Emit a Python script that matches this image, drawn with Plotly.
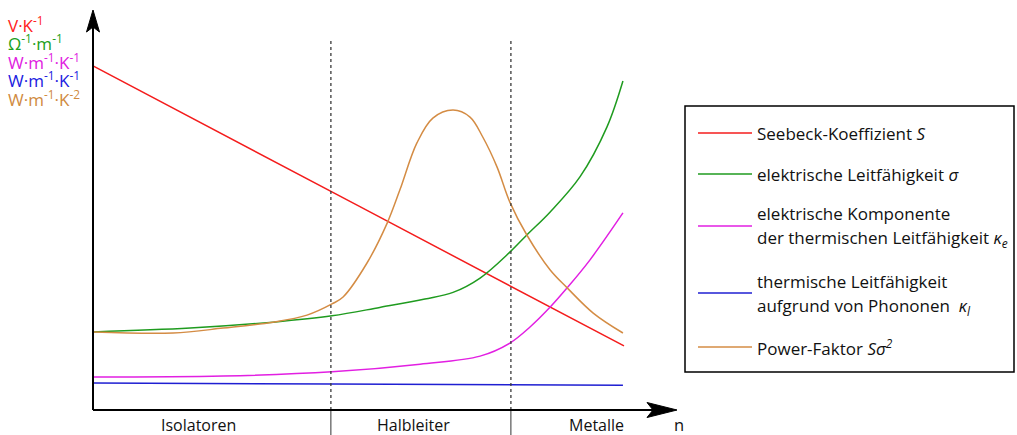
import plotly.graph_objects as go

# ---------------- data (arbitrary units: n from 0 to 10, property value 0..10) ----------------
n_S = [0.0, 5.0, 10.0]
S = [9.83, 5.83, 1.83]

n_sigma = [0.0, 1.83, 3.39, 4.50, 5.40, 6.25, 6.78, 7.29, 7.85, 8.17, 8.61, 9.17, 9.68, 9.98]
sigma = [2.23, 2.34, 2.51, 2.69, 2.93, 3.17, 3.36, 3.77, 4.51, 5.00, 5.66, 6.66, 8.09, 9.40]

n_ke = [0.0, 2.45, 4.50, 6.16, 7.29, 7.85, 8.23, 8.61, 8.93, 9.36, 9.98]
ke = [0.94, 0.97, 1.09, 1.31, 1.54, 1.91, 2.37, 2.94, 3.49, 4.29, 5.63]

n_kl = [0.0, 4.50, 9.98]
kl = [0.77, 0.74, 0.71]

n_pf = [0.0, 1.51, 2.45, 3.39, 4.03, 4.50, 4.71, 5.16, 5.54, 5.78, 6.10, 6.40, 6.78,
        7.10, 7.34, 7.61, 7.85, 8.17, 8.61, 8.93, 9.42, 9.98]
pf = [2.23, 2.20, 2.34, 2.51, 2.71, 3.03, 3.23, 4.20, 5.34, 6.29, 7.63, 8.34, 8.57,
      8.37, 7.80, 6.94, 5.94, 5.00, 4.00, 3.49, 2.77, 2.20]

region_bounds = [4.48, 7.87]
region_labels = ["Isolatoren", "Halbleiter", "Metalle"]
region_label_pos = [1.98, 6.03, 9.49]

series_names = [
    ["Seebeck-Koeffizient <i>S</i>"],
    ["elektrische Leitfähigkeit <i>σ</i>"],
    ["elektrische Komponente", "der thermischen Leitfähigkeit <i>κ<sub>e</sub></i>"],
    ["thermische Leitfähigkeit", "aufgrund von Phononen  <i>κ<sub>l</sub></i>"],
    ["Power-Faktor <i>Sσ<sup>2</sup></i>"],
]
units = ["V·K<sup>-1</sup>", "Ω<sup>-1</sup>·m<sup>-1</sup>", "W·m<sup>-1</sup>·K<sup>-1</sup>",
         "W·m<sup>-1</sup>·K<sup>-1</sup>", "W·m<sup>-1</sup>·K<sup>-2</sup>"]

# ---------------- styling ----------------
W, H = 1017, 435
X0PX, Y0PX = 93.0, 410.0      # pixel of origin
SX, SY = 53.1, 35.0           # pixels per unit
FONT = "Open Sans"

line_colors = ["#f41c1c", "#1f9b1f", "#e21fe2", "#1f1fd2", "#d48c44"]
text_colors = ["#ff2020", "#20a020", "#e020e0", "#2020e0", "#d08a40"]


def dx(p):  # pixel x -> data x
    return (p - X0PX) / SX


def dy(p):  # pixel y -> data y
    return (Y0PX - p) / SY


fig = go.Figure()
curves = [(n_S, S), (n_sigma, sigma), (n_ke, ke), (n_kl, kl), (n_pf, pf)]
for (xs, ys), c, nm in zip(curves, line_colors, series_names):
    fig.add_trace(go.Scatter(x=xs, y=ys, mode="lines", line=dict(color=c, width=1.5, shape="spline", smoothing=1.0),
                             name=" ".join(nm), showlegend=False, hoverinfo="skip"))

shapes = []
# dotted region boundaries
for b in region_bounds:
    shapes.append(dict(type="line", x0=b, x1=b, y0=0, y1=dy(40), line=dict(color="#3a3a3a", width=1.3, dash="dot")))
    shapes.append(dict(type="line", x0=b, x1=b, y0=0, y1=dy(436), line=dict(color="#333", width=1)))
# axes
shapes.append(dict(type="line", x0=0, x1=0, y0=0, y1=dy(27), line=dict(color="black", width=2)))
shapes.append(dict(type="line", x0=0, x1=dx(655), y0=0, y1=0, line=dict(color="black", width=2)))
# arrow heads
shapes.append(dict(type="path",
                   path=f"M {dx(93)},{dy(10)} L {dx(86.5)},{dy(32)} L {dx(93)},{dy(27)} L {dx(99.5)},{dy(32)} Z",
                   fillcolor="black", line=dict(color="black", width=1)))
shapes.append(dict(type="path",
                   path=f"M {dx(677)},{dy(410)} L {dx(647)},{dy(402.5)} L {dx(653)},{dy(410)} L {dx(647)},{dy(417.5)} Z",
                   fillcolor="black", line=dict(color="black", width=1)))

# legend box
shapes.append(dict(type="rect", xref="paper", yref="paper", x0=685 / W, x1=1014 / W, y0=1 - 372 / H, y1=1 - 106 / H,
                   line=dict(color="black", width=1.5), fillcolor="white"))
annotations = []
legend_line_y = [133, 174, 226, 293, 347]
legend_text_y = [[133], [174], [213, 238], [281, 306], [347]]
for c, ly, tys, texts in zip(line_colors, legend_line_y, legend_text_y, series_names):
    shapes.append(dict(type="line", xref="paper", yref="paper", x0=698 / W, x1=752 / W,
                       y0=1 - ly / H, y1=1 - ly / H, line=dict(color=c, width=1.5)))
    for ty, t in zip(tys, texts):
        annotations.append(dict(xref="paper", yref="paper", x=755 / W, y=1 - ty / H, text=t, showarrow=False,
                                xanchor="left", yanchor="middle", font=dict(family=FONT, size=17, color="#111")))

# units
for i, (u, c) in enumerate(zip(units, text_colors)):
    annotations.append(dict(xref="paper", yref="paper", x=7 / W, y=1 - (24 + 18.6 * i) / H, text=u, showarrow=False,
                            xanchor="left", yanchor="middle", borderpad=0,
                            font=dict(family=FONT, size=17, color=c)))

# region labels
for lab, xp in zip(region_labels, region_label_pos):
    annotations.append(dict(x=xp, y=dy(424.5), text=lab, showarrow=False, xanchor="center", yanchor="middle",
                            borderpad=0, font=dict(family=FONT, size=16, color="#111")))
annotations.append(dict(x=dx(679), y=dy(424), text="n", showarrow=False, xanchor="center", yanchor="middle",
                        font=dict(family=FONT, size=16.5, color="#111")))

fig.update_layout(
    width=W, height=H, margin=dict(l=0, r=0, t=0, b=0),
    paper_bgcolor="white", plot_bgcolor="white",
    xaxis=dict(visible=False, range=[dx(0), dx(W)], fixedrange=True),
    yaxis=dict(visible=False, range=[dy(H), dy(0)], fixedrange=True),
    shapes=shapes, annotations=annotations, showlegend=False,
)
fig.write_html("out.html", config={"displayModeBar": False},
               post_script="document.body.style.margin='0';document.body.style.padding='0';"
                           "document.documentElement.style.overflow='hidden';")
